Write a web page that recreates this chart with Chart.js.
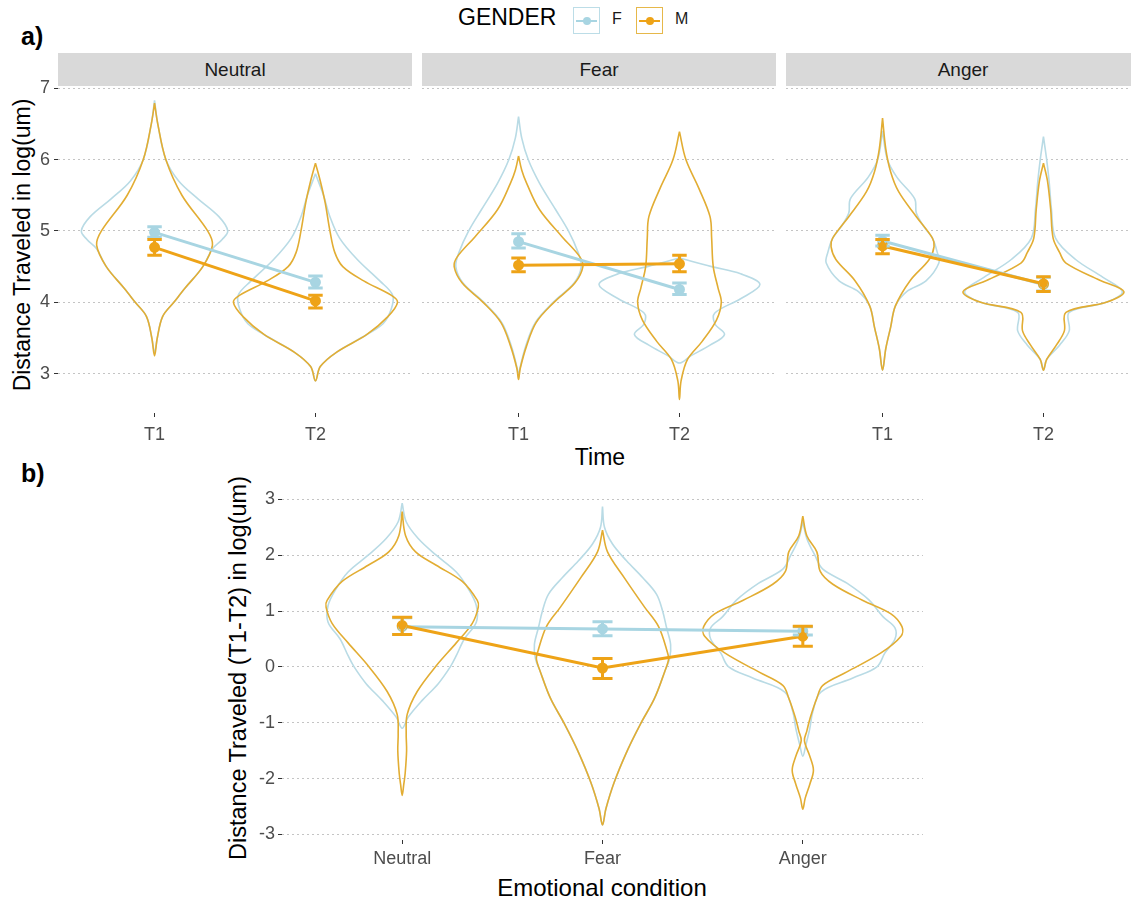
<!DOCTYPE html>
<html>
<head>
<meta charset="utf-8">
<script src="https://cdn.jsdelivr.net/npm/chart.js@4.4.1/dist/chart.umd.min.js"></script>
<style>
  body { margin: 0; background: #fff; overflow: hidden; }
  #wrap { position: relative; width: 1131px; height: 903px; overflow: hidden; background: #fff;
          font-family: 'Liberation Sans', Arial, Helvetica, sans-serif; color: #000; }
  canvas { position: absolute; }
  .lbl { position: absolute; white-space: nowrap; }
  .strip { position: absolute; top: 53px; height: 33px; background: #d9d9d9; color: #1a1a1a;
           font-size: 19px; line-height: 33px; text-align: center; }
  .rot { transform: translate(-50%, -50%) rotate(-90deg); }
  .key { position: absolute; top: 7px; width: 25px; height: 25px; border: 1.5px solid; }
  .key i { position: absolute; left: 2px; right: 2px; top: 11.5px; height: 2px; }
  .key b { position: absolute; left: 8.5px; top: 8.5px; width: 8px; height: 8px; border-radius: 50%; }
</style>
</head>
<body>
<div id="wrap">
  <div class="lbl" style="left:21px;top:22px;font-size:25px;font-weight:bold;">a)</div>
  <div class="lbl" style="left:21px;top:459px;font-size:25px;font-weight:bold;">b)</div>

  <div class="lbl" style="left:458px;top:4px;font-size:23px;">GENDER</div>
  <div class="key" style="left:573px;border-color:#bcdde7;"><i style="background:#a8d5e2"></i><b style="background:#a8d5e2"></b></div>
  <div class="lbl" style="left:612px;top:10px;font-size:16px;color:#1a1a1a;">F</div>
  <div class="key" style="left:636px;border-color:#e6b84a;"><i style="background:#eea317"></i><b style="background:#eea317"></b></div>
  <div class="lbl" style="left:675px;top:10px;font-size:16px;color:#1a1a1a;">M</div>

  <div class="strip" style="left:58px;width:354px;">Neutral</div>
  <div class="strip" style="left:422px;width:354px;">Fear</div>
  <div class="strip" style="left:786px;width:354px;">Anger</div>

  <div class="lbl rot" style="left:22px;top:245px;font-size:23px;">Distance Traveled in log(um)</div>
  <div class="lbl" style="left:600px;top:457px;font-size:23px;transform:translate(-50%,-50%);">Time</div>

  <div class="lbl rot" style="left:238px;top:668px;font-size:23.5px;">Distance Traveled (T1-T2) in log(um)</div>
  <div class="lbl" style="left:602px;top:888px;font-size:24px;transform:translate(-50%,-50%);">Emotional condition</div>

  <canvas id="facet0" width="412" height="379" style="left:0px;top:74px;"></canvas>
  <canvas id="facet1" width="354" height="379" style="left:422px;top:74px;"></canvas>
  <canvas id="facet2" width="354" height="379" style="left:786px;top:74px;"></canvas>
  <canvas id="diffChart" width="701" height="400" style="left:222px;top:479px;"></canvas>
</div>

<script>
// ---- data ----
const facetNames = ['Neutral', 'Fear', 'Anger'];
const timeLabels = ['T1', 'T2'];
const conditionLabels = ['Neutral', 'Fear', 'Anger'];
const yTicksA = [3, 4, 5, 6, 7];
const yTicksB = [-3, -2, -1, 0, 1, 2, 3];

// panel a: mean and error bar per facet, [T1, T2]
const meanF_a = [[4.98, 4.28], [4.85, 4.18], [4.86, 4.25]];
const loF_a   = [[4.91, 4.20], [4.76, 4.11], [4.79, 4.16]];
const hiF_a   = [[5.06, 4.37], [4.96, 4.27], [4.94, 4.35]];
const meanM_a = [[4.77, 4.02], [4.52, 4.54], [4.79, 4.26]];
const loM_a   = [[4.66, 3.92], [4.43, 4.43], [4.68, 4.15]];
const hiM_a   = [[4.88, 4.10], [4.62, 4.66], [4.88, 4.36]];

// panel b: T1-T2 difference per condition
const meanF_b = [0.72, 0.68, 0.64];
const loF_b   = [0.58, 0.56, 0.57];
const hiF_b   = [0.88, 0.81, 0.72];
const meanM_b = [0.74, -0.02, 0.55];
const loM_b   = [0.58, -0.21, 0.37];
const hiM_b   = [0.89, 0.15, 0.73];

// violin profiles: [value, half width]
const vNeuT1F = [[6.83,0],[6.5,0.02],[6.0,0.07],[5.7,0.15],[5.45,0.27],[5.2,0.40],[5.0,0.455],[4.88,0.42],[4.75,0.36],[4.5,0.30],[4.2,0.19],[4.0,0.12],[3.8,0.05],[3.5,0.017],[3.3,0]];
const vNeuT1M = [[6.79,0],[6.5,0.02],[6.0,0.07],[5.5,0.17],[5.0,0.33],[4.8,0.36],[4.5,0.30],[4.2,0.19],[4.0,0.12],[3.8,0.05],[3.5,0.017],[3.25,0]];
const vNeuT2F = [[5.8,0],[5.5,0.05],[5.2,0.09],[4.9,0.15],[4.6,0.26],[4.3,0.40],[4.1,0.48],[3.9,0.47],[3.7,0.42],[3.55,0.32],[3.3,0.13],[3.1,0.03],[2.9,0]];
const vNeuT2M = [[5.95,0],[5.7,0.03],[5.4,0.06],[5.0,0.09],[4.7,0.12],[4.5,0.17],[4.3,0.30],[4.1,0.47],[4.0,0.51],[3.8,0.45],[3.55,0.32],[3.3,0.13],[3.1,0.03],[2.9,0]];
const vFeaT1F = [[6.6,0],[6.3,0.02],[6.0,0.06],[5.67,0.13],[5.3,0.23],[5.0,0.31],[4.7,0.37],[4.5,0.39],[4.27,0.345],[4.0,0.215],[3.72,0.105],[3.39,0.045],[3.07,0.008],[2.95,0]];
const vFeaT1M = [[6.05,0],[5.85,0.02],[5.67,0.05],[5.3,0.13],[4.92,0.27],[4.64,0.38],[4.5,0.40],[4.27,0.35],[4.0,0.22],[3.72,0.11],[3.39,0.05],[3.07,0.01],[2.92,0]];
const vFeaT2F = [[4.62,0],[4.5,0.2],[4.4,0.38],[4.25,0.50],[4.05,0.38],[3.85,0.22],[3.7,0.22],[3.55,0.28],[3.4,0.19],[3.25,0.07],[3.15,0]];
const vFeaT2M = [[6.39,0],[6.0,0.04],[5.6,0.12],[5.2,0.19],[4.9,0.20],[4.5,0.21],[4.2,0.24],[4.0,0.26],[3.75,0.23],[3.45,0.14],[3.2,0.05],[2.9,0.01],[2.64,0]];
const vAngT1F = [[6.4,0],[6.0,0.03],[5.75,0.09],[5.45,0.20],[5.25,0.21],[5.05,0.26],[4.9,0.31],[4.7,0.34],[4.55,0.35],[4.3,0.27],[4.15,0.15],[3.95,0.08],[3.65,0.05],[3.35,0.02],[3.05,0]];
const vAngT1M = [[6.58,0],[6.15,0.02],[5.83,0.05],[5.55,0.10],[5.2,0.21],[4.9,0.31],[4.78,0.32],[4.6,0.29],[4.3,0.17],[3.95,0.08],[3.65,0.05],[3.35,0.02],[3.05,0]];
const vAngT2F = [[6.32,0],[6.0,0.02],[5.7,0.035],[5.3,0.05],[4.9,0.075],[4.6,0.20],[4.35,0.37],[4.15,0.49],[4.0,0.39],[3.86,0.16],[3.6,0.16],[3.4,0.10],[3.2,0.02],[3.05,0]];
const vAngT2M = [[5.95,0],[5.7,0.025],[5.3,0.045],[4.9,0.06],[4.7,0.10],[4.55,0.14],[4.31,0.35],[4.15,0.50],[4.0,0.39],[3.86,0.14],[3.6,0.13],[3.4,0.08],[3.2,0.02],[3.05,0]];

const vbNeuF = [[2.93,0],[2.6,0.02],[2.3,0.08],[2.0,0.17],[1.7,0.27],[1.4,0.33],[1.1,0.37],[0.8,0.37],[0.5,0.31],[0.2,0.27],[0.0,0.24],[-0.3,0.18],[-0.6,0.10],[-0.9,0.03],[-1.1,0]];
const vbNeuM = [[2.78,0],[2.35,0.017],[2.06,0.067],[1.82,0.17],[1.53,0.30],[1.19,0.375],[1.07,0.38],[0.78,0.35],[0.43,0.27],[0.02,0.17],[-0.44,0.075],[-0.85,0.025],[-1.2,0.02],[-1.5,0.022],[-1.9,0.015],[-2.1,0.008],[-2.3,0]];
const vbFeaF = [[2.87,0],[2.5,0.01],[2.2,0.05],[1.9,0.12],[1.6,0.20],[1.3,0.27],[1.0,0.30],[0.7,0.32],[0.4,0.34],[0.15,0.335],[-0.09,0.31],[-0.56,0.26],[-1.02,0.19],[-1.49,0.125],[-2.07,0.058],[-2.54,0.017],[-2.83,0]];
const vbFeaM = [[2.45,0],[2.06,0.025],[1.59,0.11],[1.07,0.21],[0.72,0.28],[0.25,0.325],[0.14,0.33],[-0.09,0.31],[-0.56,0.26],[-1.02,0.19],[-1.49,0.125],[-2.07,0.058],[-2.54,0.017],[-2.83,0]];
const vbAngF = [[2.6,0],[2.3,0.02],[2.0,0.06],[1.75,0.10],[1.5,0.22],[1.2,0.33],[0.9,0.40],[0.7,0.46],[0.5,0.46],[0.25,0.41],[0.0,0.37],[-0.2,0.25],[-0.45,0.09],[-0.8,0.05],[-1.1,0.035],[-1.4,0.015],[-1.6,0]];
const vbAngM = [[2.70,0],[2.35,0.02],[2.06,0.07],[1.71,0.087],[1.48,0.15],[1.19,0.30],[0.95,0.44],[0.72,0.495],[0.55,0.49],[0.25,0.39],[-0.09,0.22],[-0.33,0.10],[-0.56,0.07],[-0.91,0.037],[-1.15,0.02],[-1.32,0.008],[-1.6,0.035],[-1.85,0.053],[-2.1,0.035],[-2.35,0.012],[-2.55,0]];

const violinsA = [
  { F: [vNeuT1F, vNeuT2F], M: [vNeuT1M, vNeuT2M] },
  { F: [vFeaT1F, vFeaT2F], M: [vFeaT1M, vFeaT2M] },
  { F: [vAngT1F, vAngT2F], M: [vAngT1M, vAngT2M] }
];
const violinsB = { F: [vbNeuF, vbFeaF, vbAngF], M: [vbNeuM, vbFeaM, vbAngM] };

// ---- styles ----
const FONT = "'Liberation Sans', Arial, Helvetica, sans-serif";
Chart.defaults.font.family = FONT;
const colF = '#a8d5e2', colM = '#eea317';
const violinF = '#b9dbe5', violinM = '#e2ad33';
const gridCol = '#c4c4c4', tickCol = '#4d4d4d';

// mirror a profile around its category position
function outline(center, profile) {
  const right = profile.map(([v, w]) => ({ x: center + w, y: v }));
  const left = profile.slice(1, -1).reverse().map(([v, w]) => ({ x: center - w, y: v }));
  return right.concat(left, [right[0]]);
}

function violinSet(center, profile, color, order) {
  return { data: outline(center, profile), borderColor: color, borderWidth: 1.6,
           pointRadius: 0, tension: 0.35, fill: false, order: order };
}

function meanSet(values, color, order) {
  return { data: values.map((v, k) => ({ x: k + 1, y: v })), borderColor: color, backgroundColor: color,
           borderWidth: 3, pointRadius: 4, pointBackgroundColor: color, pointBorderColor: color,
           tension: 0, fill: false, order: order };
}

// error bars with caps, drawn on the chart's own scales
const errorBarPlugin = {
  id: 'errorBars',
  afterDatasetsDraw(chart, args, opts) {
    const { ctx, scales: { x, y } } = chart;
    ctx.save();
    ctx.lineWidth = 3;
    opts.bars.forEach(b => {
      const px = x.getPixelForValue(b.x);
      const l = x.getPixelForValue(b.x - opts.cap), r = x.getPixelForValue(b.x + opts.cap);
      const top = y.getPixelForValue(b.hi), bot = y.getPixelForValue(b.lo);
      ctx.strokeStyle = b.color;
      ctx.beginPath();
      ctx.moveTo(px, top); ctx.lineTo(px, bot);
      ctx.moveTo(l, top); ctx.lineTo(r, top);
      ctx.moveTo(l, bot); ctx.lineTo(r, bot);
      ctx.stroke();
      ctx.fillStyle = b.color;
      ctx.beginPath();
      ctx.arc(px, y.getPixelForValue(b.mean), 4.2, 0, Math.PI * 2);
      ctx.fill();
    });
    ctx.restore();
  }
};

function yScale(min, max, ticks, showLabels, width, pad) {
  return {
    type: 'linear', min: min, max: max,
    afterBuildTicks: s => { s.ticks = ticks.map(v => ({ value: v })); },
    afterFit: s => { s.width = width; s.paddingTop = 0; s.paddingBottom = 0; },
    ticks: { display: showLabels, color: tickCol, font: { size: 18 }, padding: pad },
    grid: { color: gridCol, lineWidth: 1, drawTicks: showLabels, tickLength: 4,
            tickColor: '#333', tickWidth: 1, tickBorderDash: [] },
    border: { display: false, dash: [2, 3] }
  };
}

function xScale(min, max, labels, height, pad) {
  return {
    type: 'linear', min: min, max: max,
    afterBuildTicks: s => { s.ticks = labels.map((_, k) => ({ value: k + 1 })); },
    afterFit: s => { s.height = height; s.paddingLeft = 0; s.paddingRight = 0; },
    ticks: { callback: v => labels[v - 1], color: tickCol, font: { size: 18 }, padding: pad,
             maxRotation: 0, autoSkip: false },
    grid: { drawOnChartArea: false, drawTicks: true, tickLength: 4, tickColor: '#333', tickWidth: 1 },
    border: { display: false }
  };
}

// top padding leaves room for the uppermost tick label above the plot area
function baseOptions(scales, bars, cap) {
  return {
    responsive: false, animation: false, events: [],
    layout: { padding: { top: 12, left: 0, right: 0, bottom: 0 }, autoPadding: false },
    plugins: { legend: { display: false }, tooltip: { enabled: false },
               errorBars: { cap: cap, bars: bars } },
    scales: scales
  };
}

// ---- panel a: one chart per facet ----
facetNames.forEach((name, i) => {
  const v = violinsA[i];
  const datasets = [
    violinSet(1, v.F[0], violinF, 6), violinSet(2, v.F[1], violinF, 6),
    violinSet(1, v.M[0], violinM, 5), violinSet(2, v.M[1], violinM, 5),
    meanSet(meanF_a[i], colF, 4), meanSet(meanM_a[i], colM, 3)
  ];
  const bars = [];
  timeLabels.forEach((t, k) => bars.push({ x: k + 1, mean: meanF_a[i][k], lo: loF_a[i][k], hi: hiF_a[i][k], color: colF }));
  timeLabels.forEach((t, k) => bars.push({ x: k + 1, mean: meanM_a[i][k], lo: loM_a[i][k], hi: hiM_a[i][k], color: colM }));
  const first = i === 0;
  new Chart(document.getElementById('facet' + i), {
    type: 'line',
    data: { datasets },
    options: baseOptions({
      x: xScale(0.4, 2.6, timeLabels, 40, 7),
      y: yScale(2.45, 7.03, yTicksA, first, first ? 58 : 0, 4)
    }, bars, 0.045),
    plugins: [errorBarPlugin]
  });
});

// ---- panel b: difference per condition ----
const dsB = [];
conditionLabels.forEach((c, k) => dsB.push(violinSet(k + 1, violinsB.F[k], violinF, 6)));
conditionLabels.forEach((c, k) => dsB.push(violinSet(k + 1, violinsB.M[k], violinM, 5)));
dsB.push(meanSet(meanF_b, colF, 4), meanSet(meanM_b, colM, 3));
const barsB = [];
conditionLabels.forEach((c, k) => barsB.push({ x: k + 1, mean: meanF_b[k], lo: loF_b[k], hi: hiF_b[k], color: colF }));
conditionLabels.forEach((c, k) => barsB.push({ x: k + 1, mean: meanM_b[k], lo: loM_b[k], hi: hiM_b[k], color: colM }));

new Chart(document.getElementById('diffChart'), {
  type: 'line',
  data: { datasets: dsB },
  options: baseOptions({
    x: xScale(0.4, 3.6, conditionLabels, 39, 4),
    y: yScale(-3.1, 3.15, yTicksB, true, 60, 3)
  }, barsB, 0.05),
  plugins: [errorBarPlugin]
});
</script>
</body>
</html>
